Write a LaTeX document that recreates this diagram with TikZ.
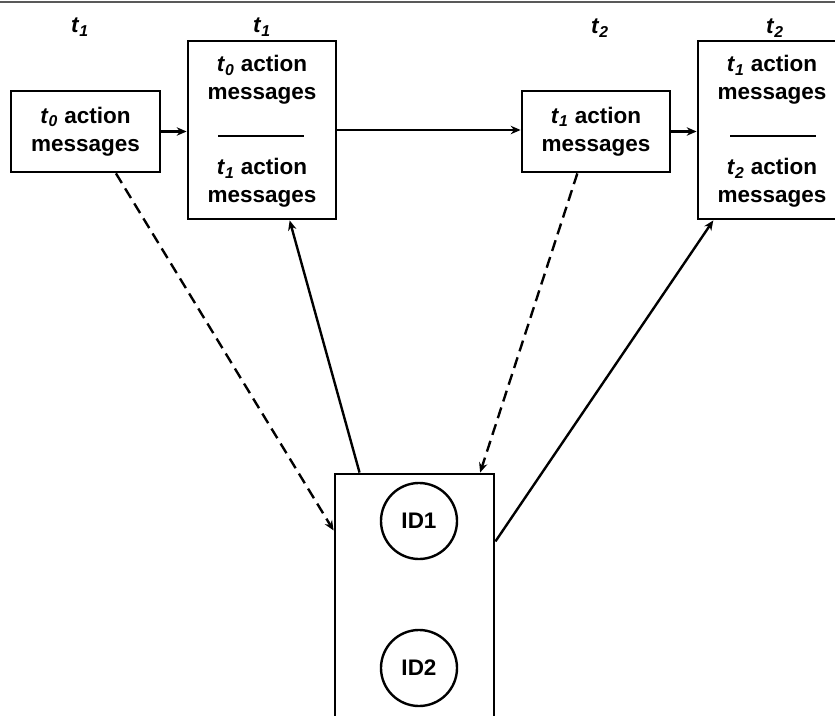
\documentclass[tikz,border=0pt]{standalone}
\usepackage{fontspec}
\setmainfont{Liberation Sans}
\usetikzlibrary{arrows.meta}
\newcommand{\tlab}[1]{\textit{t}\textsubscript{\textit{#1}}}
\tikzset{
  msgbox/.style={draw, line width=2pt, inner sep=0pt},
  msgtext/.style={align=center, font=\bfseries\fontsize{16}{20}\selectfont},
  timelab/.style={font=\bfseries\fontsize{16}{20}\selectfont},
  idnode/.style={draw, circle, line width=1.7pt, minimum size=1.9cm, inner sep=0pt, font=\bfseries\fontsize{16}{20}\selectfont},
  link/.style={line width=1.7pt, -{Stealth[length=7pt,width=6pt]}},
  dlink/.style={link, dash pattern=on 8pt off 4.5pt}
}
\begin{document}
\begin{tikzpicture}[x=0.025cm,y=-0.025cm]
  \useasboundingbox (0,0) rectangle (835,716);
  \draw [gray!70!black, line width=1.4pt] (0,2) -- (835,2);
  % time labels
  \node [timelab] (l1) at (80,27) {\tlab{1}};
  \node [timelab] (l2) at (262,27) {\tlab{1}};
  \node [timelab] (l3) at (600,28) {\tlab{2}};
  \node [timelab] (l4) at (775,28) {\tlab{2}};
  % message boxes
  \node [msgbox, minimum width=3.725cm, minimum height=2.025cm] (a) at (85.5,131.5) {};
  \node [msgtext] (at) at (a.center) {\tlab{0} action\\messages};
  \node [msgbox, minimum width=3.7cm, minimum height=4.45cm] (b) at (262,130) {};
  \node [msgtext] (bt) at (262,80) {\tlab{0} action\\messages};
  \node [msgtext] (bb) at (262,183) {\tlab{1} action\\messages};
  \coordinate (bs1) at (218,136);
  \coordinate (bs2) at (304,136);
  \draw [line width=1.6pt] (bs1) -- (bs2);
  \node [msgbox, minimum width=3.7cm, minimum height=2.025cm] (c) at (596,131.5) {};
  \node [msgtext] (ct) at (c.center) {\tlab{1} action\\messages};
  \node [msgbox, minimum width=3.7cm, minimum height=4.45cm] (d) at (772,130) {};
  \node [msgtext] (dt) at (772,80) {\tlab{1} action\\messages};
  \node [msgtext] (db) at (772,183) {\tlab{2} action\\messages};
  \coordinate (ds1) at (730,136);
  \coordinate (ds2) at (816,136);
  \draw [line width=1.6pt] (ds1) -- (ds2);
  % identities
  \node [msgbox, minimum width=3.975cm, minimum height=6.1cm] (e) at (414.5,596) {};
  \node [idnode] (id1) at (419,521) {ID1};
  \node [idnode] (id2) at (419,668) {ID2};
  % links
  \draw [link] (a.east) -- (a.east -| b.west);
  \draw [link] (b.east) -- (b.east -| c.west);
  \draw [link] (c.east) -- (c.east -| d.west);
  \draw [dlink] (a.-54) -- (e.141);
  \draw [link] (e.114) -- (b.-73);
  \draw [dlink] (c.-114) -- (e.62);
  \draw [link] (e.34) -- (d.-123);
\end{tikzpicture}
\end{document}
